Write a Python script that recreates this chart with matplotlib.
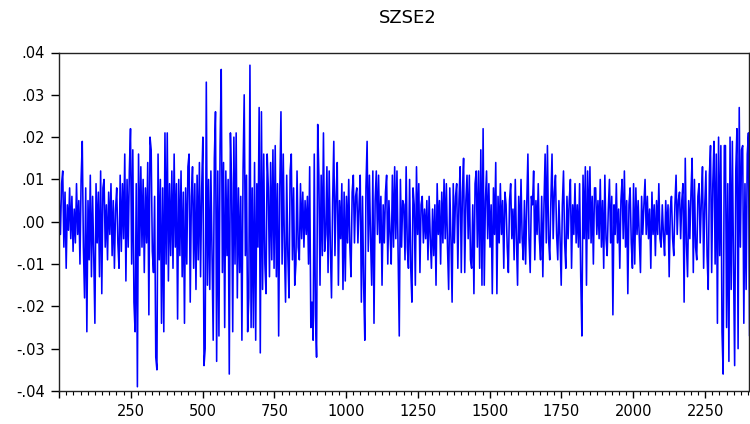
import matplotlib
matplotlib.use("Agg")
import matplotlib.pyplot as plt
import numpy as np
from matplotlib.ticker import FuncFormatter, MultipleLocator

plt.rcParams['font.family'] = ['DejaVu Sans']

TITLE = "SZSE2"
STEP = 4      # observations between stored points
FIRST = 1     # observation number of the first stored point
LAST_OBS = 2403

# returns in units of 0.001 left to right
szse2 = [
  5, -3, 9, 12, -6, 7, -11, 4, -2, 8,
  -4, 6, -7, 3, -5, 9, -3, 5, -10, 10,
  19, -6, -18, 8, -26, 5, -9, 11, -13, 6,
  -8, -24, 9, -5, 7, -13, 12, -17, 8, 10,
  -6, 4, -9, 7, -3, 9, -8, 5, -11, 3,
  8, -5, -11, 11, -7, 9, -4, 16, -14, 10,
  -6, 12, 22, -10, 17, -19, -26, 9, -39, 16,
  -8, 13, -6, 10, -12, 8, -5, 14, -22, 20,
  17, -7, -12, 6, -32, -35, 16, -9, 10, -24,
  8, -26, 21, -10, 21, -14, 9, -8, 12, -11,
  16, -6, 9, -23, 10, -8, 12, -13, 7, -24,
  8, -10, 13, 16, -19, 6, 13, -11, 9, -16,
  11, -9, 14, -13, 8, 20, -34, -30, 33, -15,
  10, -16, 12, -9, -28, 15, 26, -33, 12, -27,
  18, 36, -12, 14, -25, 12, -8, 10, -36, 21,
  9, -26, 20, -10, 21, -18, 8, -12, 6, -28,
  12, 30, -8, 11, -26, -18, 37, -25, 8, -25,
  14, -28, 9, -6, 27, -31, 26, -16, 16, -10,
  -17, 16, 8, -13, 14, -9, 17, -11, 18, -13,
  9, -27, 8, 26, -10, 16, -6, -19, 11, -8,
  -18, 12, 16, -9, 8, -15, -10, 12, -6, -9,
  9, -4, 7, -6, 5, -3, 6, -10, 13, -25,
  -19, -28, 16, -22, -32, 23, 11, -15, 11, -8,
  21, -7, -3, 13, -12, 12, -6, -18, 5, 19,
  -8, 6, 14, -15, 5, -4, 9, -16, 7, -14,
  6, -5, 10, -6, -13, 7, 11, -5, 6, 8,
  -5, 4, 11, -19, 6, -15, -28, 8, 19, -7,
  11, -4, -15, 12, -24, 5, 12, -3, 11, -5,
  6, -15, 4, -5, 7, 11, -10, 5, -3, -10,
  11, -6, 13, -4, 12, -8, -27, 10, -6, 5,
  4, -9, 13, -6, -11, 10, -11, -19, 8, 4,
  -15, 13, -3, 9, -12, 4, 6, -5, 3, -4,
  5, -9, 6, -4, -11, 3, -8, 4, -15, 9,
  -3, 5, -10, 7, -5, 10, -4, 9, -6, -16,
  8, -4, -19, 9, -5, 6, 9, -11, 5, 13,
  -12, 7, 15, -12, 5, 11, -4, 11, -9, -11,
  4, -17, 9, 12, -6, 12, -11, 17, -15, 22,
  -15, 5, 12, -4, 9, -6, 4, -17, 8, -3,
  14, -17, 6, -5, 9, -3, 5, -11, 7, 4,
  -6, -12, 5, 9, -4, 3, -9, 10, -4, -15,
  6, -5, 10, -4, -9, 5, -10, 4, 16, -4,
  -12, 6, 4, 12, -9, 5, -3, 9, -4, -9,
  6, -13, 4, 16, -5, 18, -4, -9, 5, 16,
  -4, 7, 11, -3, -9, 5, -4, -15, 4, 12,
  -5, -11, 6, -4, 5, 10, -11, 4, -3, 9,
  -5, 4, -6, 9, -13, -27, 11, -4, 13, -15,
  12, -4, 13, -5, 6, -10, 8, 8, -3, 5,
  -4, 10, -6, 5, -11, 11, -4, -8, 3, 10,
  -5, 6, -22, 4, -3, 9, -5, 3, -11, 5,
  10, -4, 12, -6, 5, -17, 4, 8, -5, -11,
  9, -10, 8, -3, 5, -4, -12, 6, -3, 4,
  10, -3, 6, -4, 3, -11, 7, -3, 4, -8,
  5, -3, 9, -4, -6, 4, -3, -8, 5, -3,
  4, -13, 3, 6, -4, -8, 4, 11, -3, 5,
  7, -4, 5, 9, -19, 15, -5, -13, 5, -4,
  7, 15, -12, 10, -6, -9, 6, 9, -5, 5,
  13, -11, 4, 12, -8, -16, 11, 18, -12, 9,
  19, -10, 16, -24, 20, -8, 18, -26, -36, 18,
  18, -25, 9, -33, 20, -16, 19, -10, -34, 12,
  22, -30, 27, -6, 17, 18, -24, 9, -16, 16,
  21, -27, 8,
]

vals = np.array(szse2) / 1000.0
obs = FIRST + STEP * np.arange(len(vals))

fig = plt.figure(figsize=(7.5, 4.24), dpi=100, facecolor='white')
ax = fig.add_axes([59/750, 1 - 391/424, 690/750, (391 - 52.5)/424])
ax.plot(obs, vals, color='#0000ff', lw=1.15)

ax.set_xlim(0, LAST_OBS)
ax.set_ylim(-0.04, 0.04)
ax.xaxis.set_major_locator(MultipleLocator(250))
ax.xaxis.set_minor_locator(MultipleLocator(25))
ax.yaxis.set_major_locator(MultipleLocator(0.01))

def fmt(v, pos):
  s = '%.2f' % v
  if s == '-0.00':
    s = '0.00'
  return s.replace('0.', '.', 1)

ax.yaxis.set_major_formatter(FuncFormatter(fmt))
ax.xaxis.set_major_formatter(FuncFormatter(lambda v, p: '' if v <= 0 else '%d' % v))

ax.tick_params(axis='y', direction='out', length=6, width=1, labelsize=10.5, pad=4, colors='black')
ax.tick_params(axis='x', which='major', direction='out', length=5, width=1, labelsize=10.5, pad=4.5)
ax.tick_params(axis='x', which='minor', direction='out', length=3, width=0.8)
for s in ax.spines.values():
  s.set_linewidth(1.0)
  s.set_color('#222222')

fig.text(407.5/750, 1 - 18/424, TITLE, ha='center', va='center', fontsize=13)

fig.savefig('out.png', dpi=100, facecolor='white')
